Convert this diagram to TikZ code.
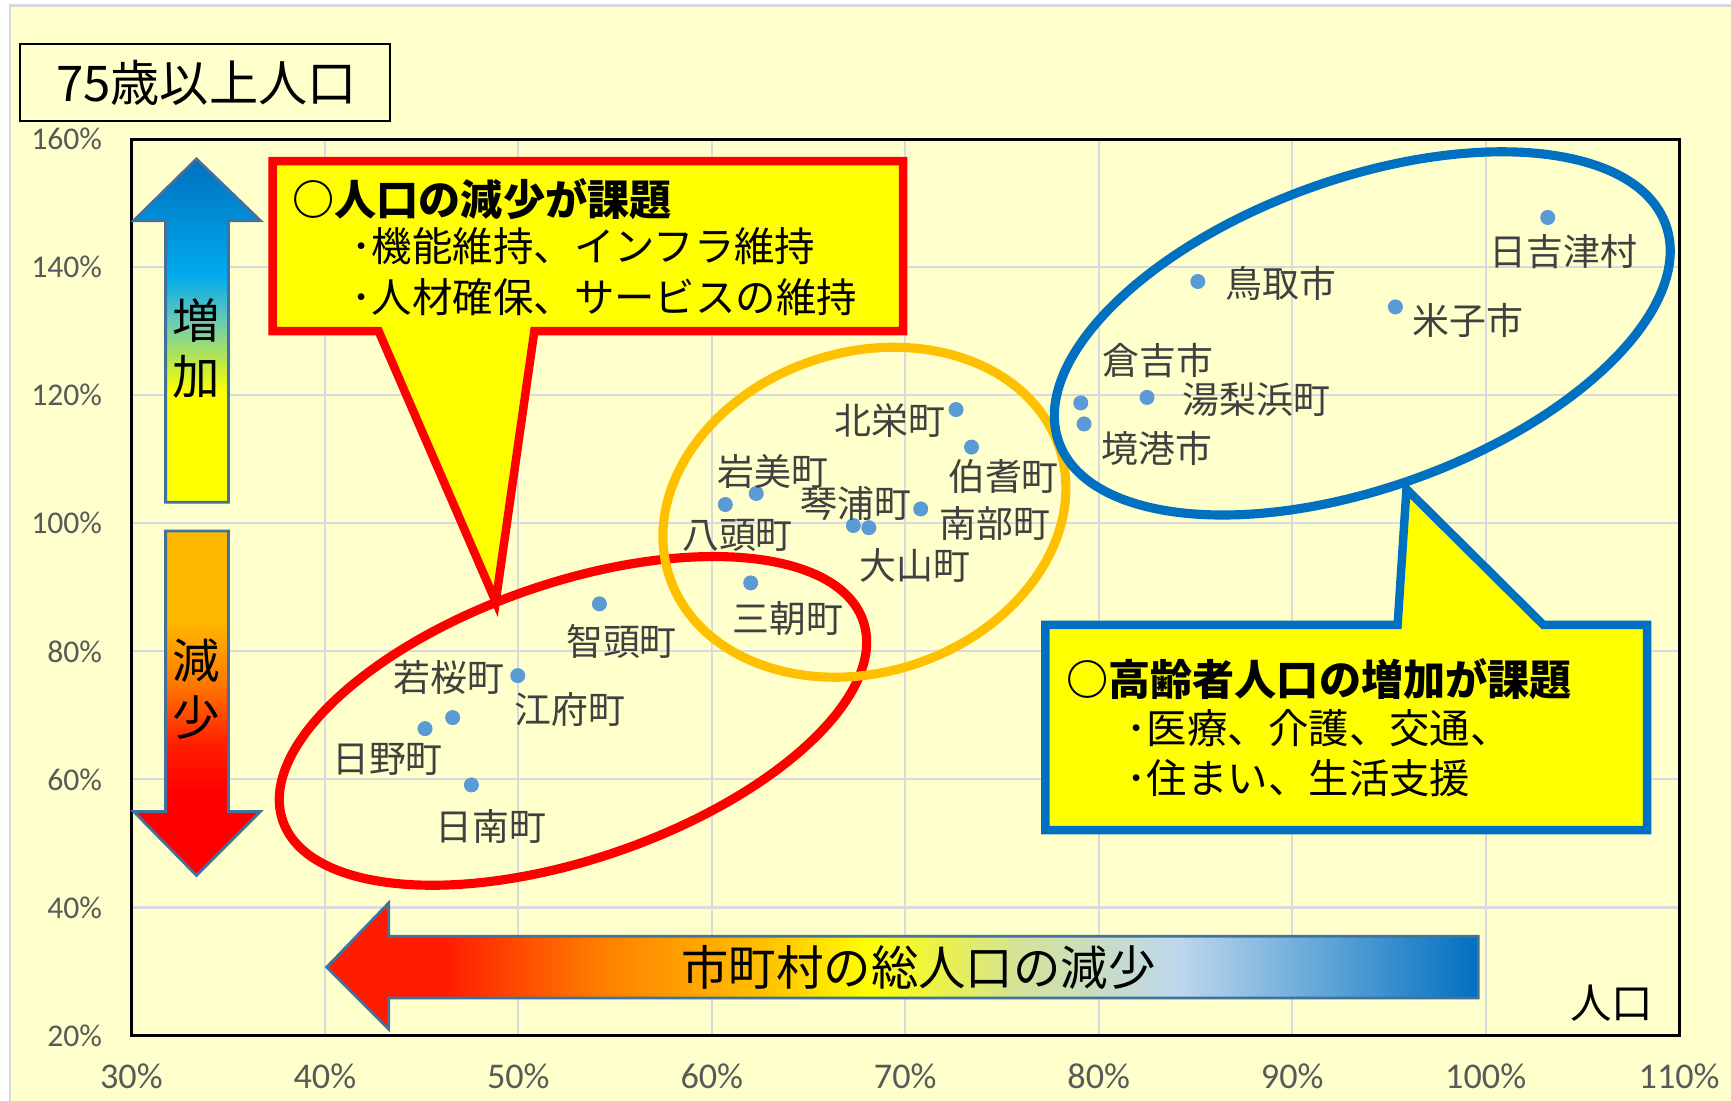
\documentclass[tikz,border=0pt]{standalone}
\usepackage{fontspec}
\newfontfamily\jpfont{Noto Sans CJK JP}
\newfontfamily\numfont{Carlito}

\definecolor{chartbg}{HTML}{FFFFCC}
\definecolor{framegray}{HTML}{D9D9D9}
\definecolor{gridgray}{HTML}{D9D9E0}
\definecolor{tickgray}{HTML}{595959}
\definecolor{labelgray}{HTML}{404040}
\definecolor{dotblue}{HTML}{5B9BD5}
\definecolor{edgeblue}{HTML}{41719C}
\definecolor{ringred}{HTML}{FF0000}
\definecolor{ringorange}{HTML}{FFC000}
\definecolor{ringblue}{HTML}{0070C0}
\definecolor{noteyellow}{HTML}{FFFF00}
% colours of the three shaded arrows
\definecolor{risegreen}{HTML}{B4E650}
\definecolor{risemint}{HTML}{70CCB0}
\definecolor{risecyan}{HTML}{00AAEC}
\definecolor{fallamber}{HTML}{FFB800}
\definecolor{fallorange}{HTML}{FF7A00}
\definecolor{fallred}{HTML}{FF1E00}
\definecolor{popred}{HTML}{FF1A00}
\definecolor{poporange}{HTML}{FF8000}
\definecolor{popamber}{HTML}{FFC000}
\definecolor{popmoss}{HTML}{D4E398}
\definecolor{popsky}{HTML}{BDD7EE}

\pgfdeclareverticalshading{riseshade}{100bp}{color(0bp)=(noteyellow); color(41bp)=(noteyellow); color(46bp)=(risegreen); color(51bp)=(risemint); color(58bp)=(risecyan); color(75bp)=(ringblue); color(100bp)=(ringblue)}
\pgfdeclareverticalshading{fallshade}{100bp}{color(0bp)=(ringred); color(37bp)=(ringred); color(44bp)=(fallred); color(53bp)=(fallorange); color(62bp)=(fallamber); color(75bp)=(fallamber); color(100bp)=(fallamber)}
\pgfdeclarehorizontalshading{popshade}{100bp}{color(0bp)=(popred); color(25bp)=(popred); color(30bp)=(popred); color(37bp)=(poporange); color(44bp)=(popamber); color(48.5bp)=(noteyellow); color(55bp)=(popmoss); color(62bp)=(popsky); color(75bp)=(ringblue); color(100bp)=(ringblue)}

\begin{document}
\begin{tikzpicture}[x=0.1104mm, y=-0.1104mm,
	town/.style={font=\jpfont\fontsize{10.5}{12}\selectfont, text=labelgray, inner sep=0pt},
	xtick/.style={font=\numfont\fontsize{10.3}{12}\selectfont, text=tickgray, inner sep=0pt},
	ytick/.style={font=\numfont\fontsize{9}{11}\selectfont, text=tickgray, inner sep=0pt, anchor=east},
	ring/.style={line width=2.6pt},
	note/.style={fill=noteyellow, line width=2.4pt},
	notehead/.style={font=\jpfont\bfseries\fontsize{12}{14}\selectfont, inner sep=0pt, anchor=west},
	noteline/.style={font=\jpfont\fontsize{11.5}{14}\selectfont, inner sep=0pt, anchor=west},
	bigword/.style={font=\jpfont\fontsize{13.5}{15}\selectfont, inner sep=0pt},
	fatarrow/.style={draw=edgeblue, line width=0.8pt}]

	\useasboundingbox (0,0) rectangle (1568,997);
	\fill[white] (0,0) rectangle (1568,997);
	\filldraw[fill=chartbg, draw=framegray, line width=0.6pt] (9,5) rectangle (1572,1001);

	% grid
	\foreach \i in {1,...,7} {
		\draw[gridgray, line width=0.6pt] ({119+\i*175.25},126) -- ({119+\i*175.25},938);
	}
	\foreach \j in {1,...,6} {
		\draw[gridgray, line width=0.6pt] (119,{126+\j*116}) -- (1521,{126+\j*116});
	}
	\draw[black, line width=0.9pt] (119,126) rectangle (1521,938);

	% axis labels
	\foreach \v in {30,40,...,110} {
		\node[xtick] (xt\v) at ({119+(\v-30)*17.525},975) {\v\%};
	}
	\foreach \v in {20,40,...,160} {
		\node[ytick] (yt\v) at (93,{938-(\v-20)*5.8}) {\v\%};
	}

	% title box
	\filldraw[fill=chartbg, draw=black, line width=0.6pt] (18,40) rectangle (353,110);
	\node[font=\jpfont\fontsize{14}{16}\selectfont, inner sep=0pt] (title) at (187,75) {75歳以上人口};

	% up and down arrows
	\shadedraw[shading=riseshade, fatarrow] (178,144) -- (236,200) -- (207,200) -- (207,455) -- (150,455) -- (150,200) -- (121,200) -- cycle;
	\node[bigword] (rise1) at (178,290) {増};
	\node[bigword] (rise2) at (178,341) {加};
	\shadedraw[shading=fallshade, fatarrow] (150,481) -- (207,481) -- (207,735) -- (236,735) -- (178,793) -- (121,735) -- (150,735) -- cycle;
	\node[bigword] (fall1) at (178,598) {減};
	\node[bigword] (fall2) at (178,650) {少};

	% total population arrow
	\shadedraw[shading=popshade, fatarrow] (296,876) -- (352,818) -- (352,848) -- (1339,848) -- (1339,904) -- (352,904) -- (352,932) -- cycle;
	\node[bigword] (poptext) at (832,876) {市町村の総人口の減少};

	% towns
	\foreach \px/\py in {1402/197, 1085/255, 1264/278, 979/365, 982/384, 1039/360, 866/371, 880/405, 834/461, 773/476, 787/478, 685/447, 657/457, 680/528, 543/547, 469/612, 410/650, 385/660, 427/711} {
		\fill[dotblue] (\px,\py) circle (6.8);
	}
	\node[town] (hiezu) at (1416,228) {日吉津村};
	\node[town] (tottori) at (1160,257) {鳥取市};
	\node[town] (yonago) at (1330,290) {米子市};
	\node[town] (kurayoshi) at (1049,327) {倉吉市};
	\node[town] (yurihama) at (1138,362) {湯梨浜町};
	\node[town] (sakaiminato) at (1048,406) {境港市};
	\node[town] (hokuei) at (806,381) {北栄町};
	\node[town] (hoki) at (909,432) {伯耆町};
	\node[town] (nanbu) at (901,474) {南部町};
	\node[town] (kotoura) at (775,456) {琴浦町};
	\node[town] (iwami) at (700,427) {岩美町};
	\node[town] (yazu) at (668,485) {八頭町};
	\node[town] (daisen) at (829,512) {大山町};
	\node[town] (misasa) at (714,560) {三朝町};
	\node[town] (chizu) at (563,581) {智頭町};
	\node[town] (wakasa) at (407,614) {若桜町};
	\node[town] (kofu) at (516,643) {江府町};
	\node[town] (hino) at (351,688) {日野町};
	\node[town] (nichinan) at (445,749) {日南町};

	% groups
	\draw[ring, ringred, rotate around={19:(519,653)}] (519,653) ellipse [x radius=278, y radius=125];
	\draw[ring, ringorange, rotate around={18:(783,464)}] (783,464) ellipse [x radius=186, y radius=145];
	\draw[ring, ringblue, rotate around={19.7:(1234,302)}] (1234,302) ellipse [x radius=292, y radius=140];

	% callouts
	\filldraw[note, draw=ringred] (247,146) -- (818,146) -- (818,300) -- (484,300) -- (449,545) -- (343,300) -- (247,300) -- cycle;
	\node[notehead] (redhead) at (264,180) {○人口の減少が課題};
	\node[noteline] (redone) at (318,223) {･機能維持、インフラ維持};
	\node[noteline] (redtwo) at (318,269) {･人材確保、サービスの維持};

	\filldraw[note, draw=ringblue] (947,566) -- (1266,566) -- (1274,443) -- (1398,566) -- (1492,566) -- (1492,752) -- (947,752) -- cycle;
	\node[notehead] (bluehead) at (965,615) {○高齢者人口の増加が課題};
	\node[noteline] (blueone) at (1020,660) {･医療、介護、交通、};
	\node[noteline] (bluetwo) at (1020,705) {･住まい、生活支援};

	\node[font=\jpfont\fontsize{11.8}{14}\selectfont, inner sep=0pt] (popaxis) at (1460,909) {人口};

\end{tikzpicture}
\end{document}
